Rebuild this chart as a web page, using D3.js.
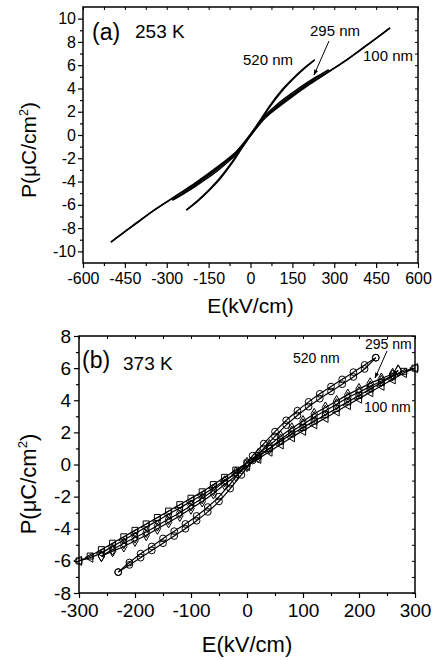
<!DOCTYPE html>
<html><head><meta charset="utf-8">
<script src="https://cdn.jsdelivr.net/npm/d3@7"></script>
<style>
body{margin:0;background:#fff}
svg{display:block}
text{font-family:"Liberation Sans",Arial,Helvetica,sans-serif;fill:#000}
</style>
</head><body>
<svg id="c" width="433" height="660"></svg>
<script>
// ---------------- Panel (a) 253 K : E (kV/cm) vs P (uC/cm2) ----------------
const aE100 = [-500,-450,-400,-350,-300,-250,-200,-150,-100,-50,0,50,100,150,200,250,300,350,400,450,500];
const aP100Down = [-9.2,-8.3,-7.4,-6.55,-5.75,-4.95,-4.15,-3.3,-2.4,-1.4,0.05,1.5,2.5,3.4,4.25,5.0,5.75,6.55,7.45,8.3,9.2];
const aP100Up   = [-9.2,-8.3,-7.45,-6.55,-5.75,-5.0,-4.25,-3.4,-2.5,-1.5,-0.05,1.4,2.4,3.3,4.15,4.95,5.75,6.55,7.4,8.3,9.2];
const aE295 = [-280,-240,-200,-160,-120,-80,-40,0,40,80,120,160,200,240,280];
const aP295Down = [-5.6,-5.0,-4.35,-3.65,-2.95,-2.15,-1.2,0.05,1.35,2.3,3.1,3.8,4.45,5.05,5.6];
const aP295Up   = [-5.6,-5.05,-4.45,-3.8,-3.1,-2.3,-1.35,-0.05,1.2,2.15,2.95,3.65,4.35,5.0,5.6];
const aE520 = [-230,-190,-150,-110,-70,-30,0,30,70,110,150,190,230];
const aP520Down = [-6.45,-5.65,-4.75,-3.7,-2.45,-1.0,0.05,1.1,2.55,3.8,4.8,5.7,6.45];
const aP520Up   = [-6.45,-5.7,-4.8,-3.8,-2.55,-1.1,-0.05,1.0,2.45,3.7,4.75,5.65,6.45];
const aXTicks = [-600,-450,-300,-150,0,150,300,450,600];
const aYTicks = [-10,-8,-6,-4,-2,0,2,4,6,8,10];

// ---------------- Panel (b) 373 K ----------------
const bE100 = [-300,-280,-260,-240,-220,-200,-180,-160,-140,-120,-100,-80,-60,-40,-20,0,20,40,60,80,100,120,140,160,180,200,220,240,260,280,300];
const bP100Down = [-6.0,-5.7,-5.3,-4.9,-4.5,-4.1,-3.7,-3.3,-2.9,-2.5,-2.1,-1.7,-1.25,-0.8,-0.35,0.1,0.55,1.0,1.45,1.9,2.3,2.7,3.1,3.5,3.9,4.3,4.7,5.1,5.5,5.8,6.0];
const bP100Up   = [-6.0,-5.8,-5.5,-5.1,-4.7,-4.3,-3.9,-3.5,-3.1,-2.7,-2.3,-1.9,-1.45,-1.0,-0.55,-0.1,0.35,0.8,1.25,1.7,2.1,2.5,2.9,3.3,3.7,4.1,4.5,4.9,5.3,5.7,6.0];
const bE295 = [-260,-240,-220,-200,-180,-160,-140,-120,-100,-80,-60,-40,-20,0,20,40,60,80,100,120,140,160,180,200,220,240,260,270];
const bP295Down = [-5.7,-5.3,-4.9,-4.55,-4.2,-3.8,-3.4,-3.0,-2.55,-2.1,-1.6,-1.05,-0.5,0.1,0.65,1.2,1.75,2.25,2.7,3.15,3.55,3.95,4.35,4.7,5.05,5.35,5.65,5.85];
const bP295Up   = [-5.7,-5.4,-5.1,-4.75,-4.4,-4.0,-3.6,-3.2,-2.75,-2.3,-1.8,-1.25,-0.7,-0.1,0.45,1.0,1.55,2.05,2.5,2.95,3.35,3.75,4.15,4.5,4.85,5.2,5.55,5.85];
const bE520 = [-230,-210,-190,-170,-150,-130,-110,-90,-70,-50,-30,-10,10,30,50,70,90,110,130,150,170,190,210,230];
const bP520Down = [-6.7,-6.1,-5.55,-5.1,-4.6,-4.15,-3.7,-3.2,-2.65,-2.0,-1.2,-0.35,0.55,1.3,2.05,2.75,3.35,3.9,4.4,4.85,5.3,5.75,6.2,6.65];
const bP520Up   = [-6.7,-6.25,-5.8,-5.35,-4.9,-4.45,-4.0,-3.5,-2.95,-2.3,-1.5,-0.65,0.25,1.0,1.75,2.45,3.05,3.6,4.1,4.55,5.0,5.45,5.95,6.65];
const bXTicks = [-300,-200,-100,0,100,200,300];
const bYTicks = [-8,-6,-4,-2,0,2,4,6,8];

const svg = d3.select('#c');
svg.append('defs').append('marker')
  .attr('id','arr').attr('viewBox','0 0 10 10').attr('refX',9).attr('refY',5)
  .attr('markerWidth',6).attr('markerHeight',6).attr('orient','auto-start-reverse')
  .append('path').attr('d','M0,1.5 L10,5 L0,8.5 Z').attr('fill','#000');

const zip = (E,P) => E.map((e,i)=>[e,P[i]]);

function panel(c){
  const g = svg.append('g');
  const x = d3.scaleLinear().domain(c.xd).range(c.xr);
  const y = d3.scaleLinear().domain(c.yd).range(c.yr);
  const x0 = c.xr[0], x1 = c.xr[1], yb = c.yr[0], yt = c.yr[1];
  // minor ticks
  const xm = d3.axisBottom(x).tickValues(c.xMinor).tickSize(3).tickFormat('');
  g.append('g').attr('transform',`translate(0,${yb})`).call(xm).call(s=>s.select('.domain').remove());
  const ym = d3.axisLeft(y).tickValues(c.yMinor).tickSize(3).tickFormat('');
  g.append('g').attr('transform',`translate(${x0},0)`).call(ym).call(s=>s.select('.domain').remove());
  // major ticks
  const xa = d3.axisBottom(x).tickValues(c.xTicks).tickSize(5).tickPadding(c.xPad).tickFormat(d=>String(d));
  const gx = g.append('g').attr('transform',`translate(0,${yb})`).call(xa);
  gx.select('.domain').remove();
  gx.selectAll('text').attr('font-size',c.tickFs).attr('font-family','"Liberation Sans",Arial,sans-serif');
  const ya = d3.axisLeft(y).tickValues(c.yTicks).tickSize(5).tickPadding(c.yPad).tickFormat(d=>String(d));
  const gy = g.append('g').attr('transform',`translate(${x0},0)`).call(ya);
  gy.select('.domain').remove();
  gy.selectAll('text').attr('font-size',c.tickFs).attr('font-family','"Liberation Sans",Arial,sans-serif');
  g.selectAll('.tick line').attr('stroke','#000').attr('stroke-width',1.2);
  // inner ticks on top and right
  const xt = d3.axisTop(x).tickValues(c.xTicks.concat(c.xMinor)).tickSize(-3).tickFormat('');
  g.append('g').attr('transform',`translate(0,${yt})`).call(xt).call(s=>s.select('.domain').remove());
  const yr = d3.axisRight(y).tickValues(c.yTicks.concat(c.yMinor)).tickSize(-3).tickFormat('');
  g.append('g').attr('transform',`translate(${x1},0)`).call(yr).call(s=>s.select('.domain').remove());
  // frame
  g.append('rect').attr('x',x0).attr('y',yt).attr('width',x1-x0).attr('height',yb-yt)
    .attr('fill','none').attr('stroke','#000').attr('stroke-width',1.5);
  // series
  const line = d3.line().x(d=>x(d[0])).y(d=>y(d[1])).curve(d3.curveMonotoneX);
  c.series.forEach(s=>{
    [s.down, s.up].forEach((P,k)=>{
      const pts = zip(s.E,P);
      g.append('path').datum(pts).attr('d',line).attr('fill','none')
        .attr('stroke','#000').attr('stroke-width',c.lw);
      if (s.sym) {
        const sym = k===0 ? s.sym : (s.sym2||s.sym);
        const rot = k===0 ? (s.rot||0) : (s.rot2||0);
        g.append('g').selectAll('path').data(pts).join('path')
          .attr('transform',d=>`translate(${x(d[0])},${y(d[1])}) rotate(${rot})`)
          .attr('d',d3.symbol().type(sym).size(s.size))
          .attr('fill','none').attr('stroke','#000').attr('stroke-width',1);
      }
    });
  });
  // axis titles
  g.append('text').attr('x',(x0+x1)/2).attr('y',c.xtY).attr('text-anchor','middle')
    .attr('font-size',c.titleFs).text('E(kV/cm)');
  const yt2 = g.append('text').attr('transform',`translate(${c.ytX},${c.ytCY}) rotate(-90)`)
    .attr('text-anchor','middle').attr('font-size',c.titleFs);
  yt2.append('tspan').text('P(μC/cm');
  yt2.append('tspan').attr('font-size',c.titleFs*0.6).attr('dy',-c.titleFs*0.4).text('2');
  yt2.append('tspan').attr('dy',c.titleFs*0.4).text(')');
  // panel label
  g.append('text').attr('x',c.pl[0]).attr('y',c.pl[1]).attr('font-size',c.plFs).text(c.plA);
  g.append('text').attr('x',c.pl2[0]).attr('y',c.pl2[1]).attr('font-size',c.pl2Fs).text(c.plB);
  // series labels
  c.labels.forEach(l=>{
    g.append('text').attr('x',l[1]).attr('y',l[2]).attr('font-size',c.lblFs).text(l[0]);
  });
  g.append('line').attr('x1',c.arrow[0]).attr('y1',c.arrow[1]).attr('x2',c.arrow[2]).attr('y2',c.arrow[3])
    .attr('stroke','#000').attr('stroke-width',1).attr('marker-end','url(#arr)');
}

panel({
  xd:[-600,600], xr:[83,418], yd:[-11,11], yr:[263,7],
  xTicks:aXTicks, yTicks:aYTicks,
  xMinor:[-525,-375,-225,-75,75,225,375,525], yMinor:[-9,-7,-5,-3,-1,1,3,5,7,9],
  tickFs:16, xPad:5, yPad:2, titleFs:21, lw:1.5,
  xtY:313, ytX:36, ytCY:150,
  pl:[92,40], plFs:23, plA:'(a)', pl2:[135,38], pl2Fs:19, plB:'253 K',
  lblFs:15,
  labels:[['520 nm',243,65],['295 nm',310,36],['100 nm',363,61]],
  arrow:[329,41,314,75],
  series:[
    {E:aE100, down:aP100Down, up:aP100Up},
    {E:aE295, down:aP295Down, up:aP295Up},
    {E:aE520, down:aP520Down, up:aP520Up}
  ]
});

panel({
  xd:[-300,300], xr:[79,415], yd:[-8,8], yr:[593,336],
  xTicks:bXTicks, yTicks:bYTicks,
  xMinor:[-250,-150,-50,50,150,250], yMinor:[-7,-5,-3,-1,1,3,5,7],
  tickFs:19, xPad:6, yPad:3, titleFs:22, lw:1.2,
  xtY:652, ytX:36, ytCY:484,
  pl:[82,368], plFs:23, plA:'(b)', pl2:[123,370], pl2Fs:19, plB:'373 K',
  lblFs:14,
  labels:[['520 nm',293,363],['295 nm',365,349],['100 nm',364,412]],
  arrow:[387,351,375,378],
  series:[
    {E:bE100, down:bP100Down, up:bP100Up, sym:d3.symbolSquare, sym2:d3.symbolTriangle, rot:0, rot2:-90, size:36},
    {E:bE295, down:bP295Down, up:bP295Up, sym:d3.symbolDiamond, size:36},
    {E:bE520, down:bP520Down, up:bP520Up, sym:d3.symbolCircle, size:36}
  ]
});
</script>
</body></html>
